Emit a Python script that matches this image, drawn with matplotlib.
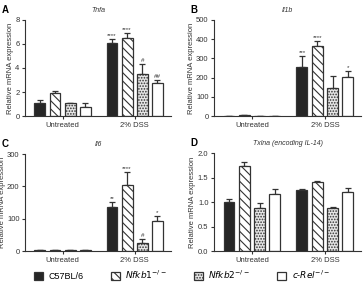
import numpy as np
import matplotlib
matplotlib.use("Agg")
import matplotlib.pyplot as plt
from matplotlib.patches import Patch

plt.rcParams['font.family'] = ['Liberation Sans', 'DejaVu Sans']
plt.rcParams['hatch.linewidth'] = 0.8

groups = ["Untreated", "2% DSS"]
strains = ["C57BL/6", r"$\mathit{Nfkb1}^{-/-}$", r"$\mathit{Nfkb2}^{-/-}$", r"$\mathit{c}$-$\mathit{Rel}^{-/-}$"]

# values: rows = strains, cols = groups
tnfa = [[1.1, 6.05], [1.95, 6.47], [1.05, 3.47], [0.78, 2.72]]
tnfa_err = [[0.2, 0.4], [0.15, 0.45], [0.05, 0.9], [0.28, 0.28]]
tnfa_sig = [["", "****"], ["", "****"], ["", "#"], ["", "##"]]

il1b = [[2, 257], [3, 364], [2, 144], [2, 205]]
il1b_err = [[0.5, 55], [0.5, 28], [0.5, 64], [0.5, 29]]
il1b_sig = [["", "***"], ["", "****"], ["", ""], ["", "*"]]

il6 = [[2, 136], [4, 204], [2, 26], [2, 92]]
il6_err = [[0.3, 16], [0.5, 41], [0.3, 12], [0.3, 16]]
il6_sig = [["", "**"], ["", "****"], ["", "#"], ["", "*"]]

txlna = [[1.01, 1.25], [1.74, 1.42], [0.89, 0.88], [1.16, 1.2]]
txlna_err = [[0.045, 0.025], [0.075, 0.02], [0.09, 0.02], [0.115, 0.08]]
txlna_sig = [["", ""], ["", ""], ["", ""], ["", ""]]

faces = ["#262626", "white", "#e6e6e6", "white"]
hatches = [None, "\\\\\\\\", "......", None]
edge = "#333333"

panels = [
    ("A", "Tnfa", tnfa, tnfa_err, tnfa_sig, 8, [0, 2, 4, 6, 8], [0.069, 0.597, 0.40, 0.334]),
    ("B", "Il1b", il1b, il1b_err, il1b_sig, 500, [0, 100, 200, 300, 400, 500], [0.588, 0.597, 0.405, 0.334]),
    ("C", "Il6", il6, il6_err, il6_sig, 300, [0, 100, 200, 300], [0.069, 0.128, 0.40, 0.337]),
    ("D", "Txlna (encoding IL-14)", txlna, txlna_err, txlna_sig, 2.0, [0.0, 0.5, 1.0, 1.5, 2.0], [0.588, 0.128, 0.405, 0.340]),
]

fig = plt.figure(figsize=(3.64, 2.88), dpi=100)
x = np.arange(len(groups))
w = 0.15
step = 0.21

for letter, title, vals, errs, sigs, ymax, yticks, rect in panels:
    ax = fig.add_axes(rect)
    for i in range(4):
        pos = x + (i - 1.5) * step
        ax.bar(pos, vals[i], w, color=faces[i], edgecolor=edge, hatch=hatches[i],
               linewidth=0.9, zorder=2)
        ax.errorbar(pos, vals[i], yerr=[np.zeros(2), errs[i]], fmt='none',
                    ecolor=edge, elinewidth=0.9, capsize=2.2, capthick=0.9, zorder=1)
        for j in range(2):
            if sigs[i][j]:
                ax.text(pos[j], vals[i][j] + errs[i][j] + ymax * 0.01, sigs[i][j],
                        ha='center', va='bottom', fontsize=4.5, color="#333333")
    ax.set_xlim(-0.52, 1.5)
    ax.set_ylim(0, ymax)
    ax.set_yticks(yticks)
    if ymax == 2.0:
        ax.set_yticklabels([f"{t:.1f}" for t in yticks])
    ax.set_xticks(x)
    ax.set_xticklabels(groups)
    ax.tick_params(labelsize=5.5, length=2.5, width=0.8, pad=1.5, colors="#333333")
    for s in ["top", "right"]:
        ax.spines[s].set_visible(False)
    for s in ["left", "bottom"]:
        ax.spines[s].set_linewidth(0.8)
        ax.spines[s].set_color("#333333")
    ax.set_ylabel("Relative mRNA expression", fontsize=5.5, labelpad=1, color="#333333")
    ax.set_title(title, fontsize=5, style='italic', pad=6, color="#333333")
    bb = ax.get_position()
    fig.text(bb.x0 - 0.065, bb.y1 + 0.035, letter, fontsize=7, fontweight='bold', va='center')

handles = [Patch(facecolor=faces[i], edgecolor=edge, hatch=hatches[i], linewidth=0.9) for i in range(4)]
fig.legend(handles, strains, loc='lower center', bbox_to_anchor=(0.5, -0.005), ncol=4,
           frameon=False, fontsize=6.5, handlelength=1.0, handleheight=1.0,
           columnspacing=3.0, handletextpad=0.6)

fig.savefig("out.png", dpi=100)
